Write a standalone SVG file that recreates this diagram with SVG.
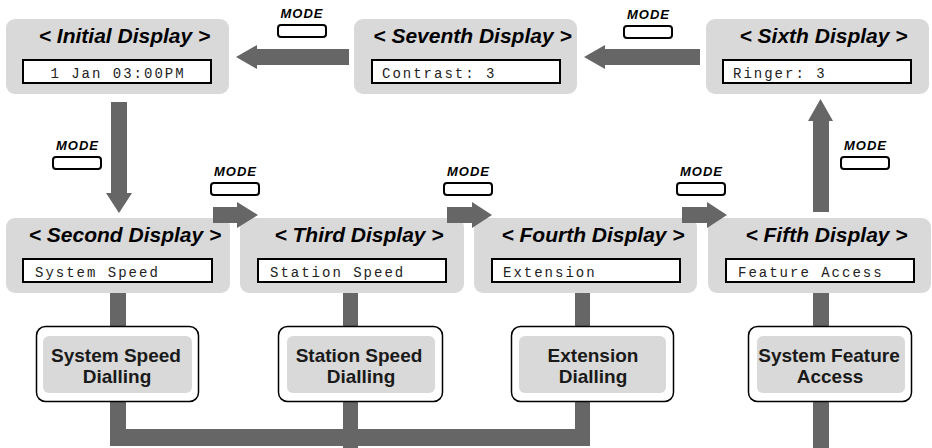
<svg xmlns="http://www.w3.org/2000/svg" width="932" height="448" viewBox="0 0 932 448">
<style>
.disp{fill:#d9d9d9}
.lcd{fill:#ffffff;stroke:#000000;stroke-width:2}
.title{font-family:"Liberation Sans",Arial,sans-serif;font-weight:bold;font-style:italic;font-size:21px;fill:#000000;text-anchor:middle}
.lcdt{font-family:"Liberation Mono","Courier New",monospace;font-size:14px;letter-spacing:2px;fill:#222222}
.arrow{fill:#666666}
.btn{fill:#ffffff;stroke:#000000;stroke-width:2}
.mode{font-family:"Liberation Sans",Arial,sans-serif;font-weight:bold;font-style:italic;font-size:13px;letter-spacing:1px;fill:#000000;text-anchor:middle}
.feat{fill:#ffffff;stroke:#000000;stroke-width:1.5}
.featin{fill:#d9d9d9}
.featt{font-family:"Liberation Sans",Arial,sans-serif;font-weight:bold;font-size:19px;fill:#1a1a1a;text-anchor:middle}
</style>
<rect width="932" height="448" fill="#ffffff"/>

<g id="initial-display">
<rect class="disp" x="6" y="19" width="223" height="75" rx="9"/>
<text class="title" x="124.5" y="43">&lt; Initial Display &gt;</text>
<rect class="lcd" x="23" y="60" width="188" height="23"/>
<text class="lcdt" x="118" y="77.5" text-anchor="middle">1 Jan 03:00PM</text>
</g>
<g id="seventh-display">
<rect class="disp" x="354" y="19" width="223" height="75" rx="9"/>
<text class="title" x="472.5" y="43">&lt; Seventh Display &gt;</text>
<rect class="lcd" x="372" y="60" width="188" height="23"/>
<text class="lcdt" x="382" y="77.5">Contrast: 3</text>
</g>
<g id="sixth-display">
<rect class="disp" x="706" y="19" width="223" height="75" rx="9"/>
<text class="title" x="823.5" y="43">&lt; Sixth Display &gt;</text>
<rect class="lcd" x="723" y="60" width="188" height="23"/>
<text class="lcdt" x="733" y="77.5">Ringer: 3</text>
</g>
<g id="second-display">
<rect class="disp" x="6" y="218" width="224" height="75" rx="9"/>
<text class="title" x="125" y="242">&lt; Second Display &gt;</text>
<rect class="lcd" x="23" y="259" width="189" height="23"/>
<text class="lcdt" x="35" y="276.5">System Speed</text>
</g>
<g id="third-display">
<rect class="disp" x="240" y="218" width="224" height="75" rx="9"/>
<text class="title" x="359" y="242">&lt; Third Display &gt;</text>
<rect class="lcd" x="258" y="259" width="188" height="23"/>
<text class="lcdt" x="270" y="276.5">Station Speed</text>
</g>
<g id="fourth-display">
<rect class="disp" x="474" y="218" width="223" height="75" rx="9"/>
<text class="title" x="593" y="242">&lt; Fourth Display &gt;</text>
<rect class="lcd" x="492" y="259" width="188" height="23"/>
<text class="lcdt" x="503" y="276.5">Extension</text>
</g>
<g id="fifth-display">
<rect class="disp" x="708" y="218" width="223" height="75" rx="9"/>
<text class="title" x="826.5" y="242">&lt; Fifth Display &gt;</text>
<rect class="lcd" x="726" y="259" width="188" height="23"/>
<text class="lcdt" x="738" y="276.5">Feature Access</text>
</g>

<g id="connectors">
<polygon class="arrow" points="349,49 257,49 257,45 236,57 257,69 257,65 349,65"/>
<polygon class="arrow" points="700,49 605,49 605,45 584,57 605,69 605,65 700,65"/>
<polygon class="arrow" points="111,102 127,102 127,193 132,193 119,213 106,193 111,193"/>
<polygon class="arrow" points="213,207 237,207 237,202 258,215 237,228 237,223 213,223"/>
<polygon class="arrow" points="447,207 472,207 472,202 492,215 472,228 472,223 447,223"/>
<polygon class="arrow" points="682,207 707,207 707,202 727,215 707,228 707,223 682,223"/>
<polygon class="arrow" points="813,212 813,121 808,121 820.5,99 833,121 829,121 829,212"/>
<rect class="arrow" x="110" y="293" width="16" height="33"/>
<rect class="arrow" x="343" y="293" width="15" height="33"/>
<rect class="arrow" x="575" y="293" width="15" height="33"/>
<rect class="arrow" x="813" y="293" width="16" height="33"/>
<polygon class="arrow" points="110,402 126,402 126,429 575,429 575,402 590,402 590,446 110,446"/>
<rect class="arrow" x="343" y="402" width="15" height="46"/>
<rect class="arrow" x="813" y="402" width="16" height="46"/>
<g id="mode-buttons">
<text class="mode" x="302" y="18">MODE</text>
<rect class="btn" x="278" y="25" width="48" height="12" rx="3"/>
<text class="mode" x="648.5" y="19">MODE</text>
<rect class="btn" x="624" y="26" width="48" height="12" rx="3"/>
<text class="mode" x="77.5" y="150">MODE</text>
<rect class="btn" x="53" y="157" width="48" height="12" rx="3"/>
<text class="mode" x="235.5" y="176">MODE</text>
<rect class="btn" x="211" y="183" width="48" height="12" rx="3"/>
<text class="mode" x="468.5" y="176">MODE</text>
<rect class="btn" x="444" y="183" width="48" height="12" rx="3"/>
<text class="mode" x="701.5" y="176">MODE</text>
<rect class="btn" x="677" y="183" width="48" height="12" rx="3"/>
<text class="mode" x="865.5" y="150">MODE</text>
<rect class="btn" x="841" y="157" width="48" height="12" rx="3"/>
</g>
</g>

<g id="system-speed-dialling">
<rect class="feat" x="36.5" y="326.5" width="162" height="75" rx="9"/>
<rect class="featin" x="43" y="336" width="149" height="57" rx="6"/>
<text class="featt" x="116" y="362">System Speed</text>
<text class="featt" x="117" y="383">Dialling</text>
</g>
<g id="station-speed-dialling">
<rect class="feat" x="278.5" y="326.5" width="164" height="75" rx="9"/>
<rect class="featin" x="287" y="336" width="148" height="57" rx="6"/>
<text class="featt" x="359" y="362">Station Speed</text>
<text class="featt" x="361" y="383">Dialling</text>
</g>
<g id="extension-dialling">
<rect class="feat" x="511.5" y="326.5" width="162" height="75" rx="9"/>
<rect class="featin" x="519" y="336" width="147" height="57" rx="6"/>
<text class="featt" x="593" y="362">Extension</text>
<text class="featt" x="593" y="383">Dialling</text>
</g>
<g id="system-feature-access">
<rect class="feat" x="748.5" y="326.5" width="163" height="75" rx="9"/>
<rect class="featin" x="757" y="336" width="148" height="57" rx="6"/>
<text class="featt" x="829" y="362">System Feature</text>
<text class="featt" x="830" y="383">Access</text>
</g>
</svg>
